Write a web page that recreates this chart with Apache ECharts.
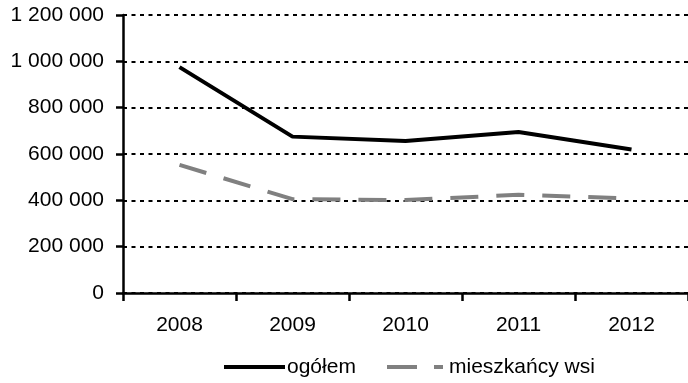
<!DOCTYPE html>
<html>
<head>
<meta charset="utf-8">
<script src="https://cdn.jsdelivr.net/npm/echarts@6/dist/echarts.min.js"></script>
<style>
  html, body { margin: 0; padding: 0; background: #fff; }
  #chart { width: 688px; height: 383px; }
</style>
</head>
<body>
<div id="chart"></div>
<script>
// Lata i liczba osób (ogółem oraz mieszkańcy wsi)
const years = ['2008', '2009', '2010', '2011', '2012'];
const ogolem = [975000, 675000, 656000, 695000, 619000];
const mieszkancyWsi = [553000, 405000, 401000, 424000, 408000];
const yTicks = [0, 200000, 400000, 600000, 800000, 1000000, 1200000];
const seriesNames = ['ogółem', 'mieszkańcy wsi'];

const fontFamily = '"Liberation Sans", Arial, sans-serif';
const grey = '#808080';
const greyDash = [28, 18];

function fmt(v) {
  return String(v).replace(/\B(?=(\d{3})+(?!\d))/g, ' ');
}

// Legenda rysowana jako grafika: linia ciągła i przerywana z podpisami
const legendY = 367;
const legendGraphics = [
  { type: 'line', shape: { x1: 224, y1: legendY, x2: 285, y2: legendY },
    style: { stroke: '#000', lineWidth: 4 } },
  { type: 'text', x: 287, y: legendY,
    style: { text: seriesNames[0], fill: '#000', font: '21px ' + fontFamily, textVerticalAlign: 'middle', verticalAlign: 'middle' } },
  { type: 'line', shape: { x1: 387, y1: legendY, x2: 443, y2: legendY },
    style: { stroke: grey, lineWidth: 4, lineDash: [30, 17] } },
  { type: 'text', x: 449, y: legendY,
    style: { text: seriesNames[1], fill: '#000', font: '21px ' + fontFamily, textVerticalAlign: 'middle', verticalAlign: 'middle' } }
];

const chart = echarts.init(document.getElementById('chart'));
chart.setOption({
  animation: false,
  backgroundColor: '#ffffff',
  grid: { left: 123, right: -8, top: 15, bottom: 90, containLabel: false },
  graphic: legendGraphics,
  xAxis: {
    type: 'category',
    data: years,
    boundaryGap: true,
    axisLine: { lineStyle: { color: '#000', width: 2.5 } },
    axisTick: { show: true, inside: false, length: 8, lineStyle: { color: '#000', width: 2.5 } },
    axisLabel: { color: '#000', fontFamily: fontFamily, fontSize: 21, margin: 22 },
    splitLine: { show: false }
  },
  yAxis: {
    type: 'value',
    min: yTicks[0],
    max: yTicks[yTicks.length - 1],
    interval: 200000,
    axisLine: { show: true, lineStyle: { color: '#000', width: 2.5 } },
    axisTick: { show: true, inside: false, length: 7, lineStyle: { color: '#000', width: 2.5 } },
    axisLabel: { color: '#000', fontFamily: fontFamily, fontSize: 21, margin: 19, formatter: fmt },
    splitLine: { show: true, lineStyle: { color: '#000', width: 2, type: [4, 4.5] } }
  },
  series: [
    {
      name: seriesNames[0],
      type: 'line',
      data: ogolem,
      symbol: 'none',
      lineStyle: { color: '#000', width: 4 },
      itemStyle: { color: '#000' },
      z: 3
    },
    {
      name: seriesNames[1],
      type: 'line',
      data: mieszkancyWsi,
      symbol: 'none',
      lineStyle: { color: grey, width: 4, type: greyDash },
      itemStyle: { color: grey },
      z: 2
    }
  ]
});
</script>
</body>
</html>
